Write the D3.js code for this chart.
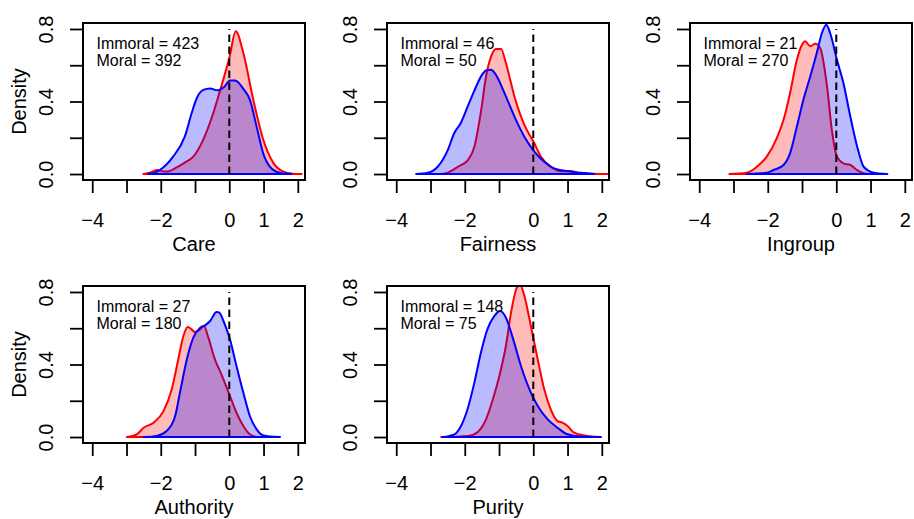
<!DOCTYPE html>
<html>
<head>
<meta charset="utf-8">
<script src="https://cdn.jsdelivr.net/npm/d3@7"></script>
<style>
	body { margin: 0; background: #fff; }
	svg { display: block; font-family: "Liberation Sans", Arial, Helvetica, sans-serif; }
</style>
</head>
<body>
<svg id="chart" width="914" height="519"></svg>
<script>
// foundations, sample sizes
var foundations = ["Care", "Fairness", "Ingroup", "Authority", "Purity"]
var immoralN = [423, 46, 21, 27, 148]
var moralN = [392, 50, 270, 180, 75]

// density curves, [x, density]
var careImmoral = [[-2.51,0],[-2.3,0.008],[-2.12,0.022],[-1.95,0.016],[-1.83,0.014],[-1.55,0.035],[-1.3,0.063],[-1.05,0.096],[-0.76,0.19],[-0.47,0.335],[-0.27,0.46],[0,0.64],[0.19,0.787],[0.41,0.667],[0.7,0.41],[0.99,0.19],[1.29,0.06],[1.58,0.013],[1.85,0.002],[2.11,0]]
var careMoral = [[-2.37,0],[-2.2,0.006],[-2.03,0.022],[-1.64,0.096],[-1.3,0.206],[-1.1,0.335],[-0.95,0.418],[-0.76,0.464],[-0.56,0.472],[-0.35,0.462],[-0.15,0.48],[0.02,0.516],[0.17,0.516],[0.41,0.47],[0.6,0.41],[0.8,0.26],[0.99,0.114],[1.19,0.04],[1.48,0.007],[1.82,0]]
var fairImmoral = [[-2.69,0],[-2.5,0.007],[-2.2,0.04],[-1.91,0.077],[-1.72,0.15],[-1.52,0.354],[-1.38,0.538],[-1.23,0.649],[-1.09,0.69],[-0.94,0.69],[-0.8,0.612],[-0.55,0.428],[-0.26,0.271],[0.03,0.17],[0.22,0.096],[0.51,0.04],[0.81,0.015],[1.1,0.016],[1.3,0.007],[1.58,0.003],[2.26,0]]
var fairMoral = [[-3.42,0],[-3.08,0.007],[-2.79,0.04],[-2.5,0.13],[-2.31,0.225],[-2.12,0.28],[-1.92,0.37],[-1.72,0.46],[-1.52,0.54],[-1.38,0.571],[-1.23,0.575],[-1.09,0.547],[-0.84,0.446],[-0.55,0.317],[-0.26,0.206],[0.03,0.124],[0.32,0.068],[0.61,0.031],[1.0,0.015],[1.39,0.007],[1.78,0]]
var ingImmoral = [[-3.12,0],[-2.61,0.007],[-2.32,0.04],[-2.03,0.096],[-1.74,0.197],[-1.54,0.299],[-1.35,0.446],[-1.15,0.63],[-1.0,0.713],[-0.91,0.732],[-0.76,0.705],[-0.61,0.718],[-0.47,0.695],[-0.27,0.483],[-0.13,0.243],[0.02,0.096],[0.21,0.059],[0.41,0.05],[0.61,0.022],[0.8,0.004],[0.9,0]]
var ingMoral = [[-2.61,0],[-2.03,0.007],[-1.83,0.022],[-1.54,0.05],[-1.35,0.114],[-1.15,0.262],[-0.96,0.41],[-0.76,0.538],[-0.57,0.667],[-0.42,0.778],[-0.29,0.824],[-0.18,0.778],[0.02,0.63],[0.21,0.501],[0.41,0.317],[0.61,0.151],[0.8,0.04],[1.1,0.007],[1.49,0]]
var authImmoral = [[-2.99,0],[-2.7,0.015],[-2.5,0.051],[-2.21,0.079],[-1.92,0.143],[-1.68,0.263],[-1.49,0.428],[-1.34,0.557],[-1.21,0.607],[-1.1,0.594],[-1.0,0.579],[-0.85,0.594],[-0.74,0.612],[-0.61,0.548],[-0.42,0.428],[-0.23,0.346],[0.02,0.226],[0.21,0.134],[0.41,0.061],[0.6,0.015],[0.8,0]]
var authMoral = [[-2.5,0],[-2.12,0.006],[-1.83,0.033],[-1.58,0.116],[-1.44,0.245],[-1.24,0.428],[-1.05,0.548],[-0.85,0.603],[-0.71,0.616],[-0.56,0.64],[-0.37,0.69],[-0.29,0.686],[-0.17,0.64],[0.02,0.539],[0.21,0.392],[0.41,0.245],[0.6,0.116],[0.8,0.042],[0.99,0.009],[1.48,0]]
var purImmoral = [[-2.69,0],[-1.91,0.006],[-1.62,0.028],[-1.38,0.097],[-1.18,0.208],[-0.99,0.337],[-0.8,0.502],[-0.65,0.686],[-0.5,0.815],[-0.39,0.842],[-0.26,0.778],[-0.07,0.612],[0.13,0.428],[0.32,0.263],[0.51,0.153],[0.71,0.088],[0.85,0.079],[1.0,0.061],[1.19,0.024],[1.49,0.009],[1.97,0]]
var purMoral = [[-2.65,0],[-2.3,0.015],[-2.11,0.061],[-1.92,0.153],[-1.72,0.3],[-1.53,0.465],[-1.34,0.594],[-1.14,0.667],[-0.97,0.695],[-0.8,0.659],[-0.6,0.548],[-0.36,0.392],[-0.07,0.245],[0.13,0.171],[0.42,0.097],[0.71,0.051],[1.0,0.015],[1.39,0.003],[1.97,0]]

var immoralCurves = [careImmoral, fairImmoral, ingImmoral, authImmoral, purImmoral]
var moralCurves = [careMoral, fairMoral, ingMoral, authMoral, purMoral]

var xTicks = [-4, -3, -2, -1, 0, 1, 2]
var xLabels = [-4, -2, 0, 1, 2]
var yTicks = [0, 0.2, 0.4, 0.6, 0.8]
var yLabels = [0, 0.4, 0.8]

var colLeft = [83, 387, 690]
var rowTop = [23, 286]
var boxW = 222, boxH = 157

var x = d3.scaleLinear().domain([-4.27, 2.21]).range([0, boxW])
var y = d3.scaleLinear().domain([-0.033, 0.833]).range([boxH, 0])

var svg = d3.select("#chart")

svg.append("defs").append("clipPath")
	.attr("id", "boxclip")
	.append("rect")
	.attr("width", boxW)
	.attr("height", boxH)

var area = d3.area()
	.x(d => x(d[0]))
	.y0(y(0))
	.y1(d => y(d[1]))
	.curve(d3.curveMonotoneX)

function drawPanel(i) {
	let g = svg.append("g")
		.attr("transform", "translate(" + colLeft[i % 3] + "," + rowTop[Math.floor(i / 3)] + ")")

	let plot = g.append("g").attr("clip-path", "url(#boxclip)")

	// immoral first, moral on top of it
	plot.append("path")
		.attr("d", area(immoralCurves[i]))
		.attr("fill", "rgba(255,0,0,0.27)")
		.attr("stroke", "#ff0000")
		.attr("stroke-width", 2)
		.attr("stroke-linejoin", "round")

	plot.append("path")
		.attr("d", area(moralCurves[i]))
		.attr("fill", "rgba(0,0,255,0.27)")
		.attr("stroke", "#0000ff")
		.attr("stroke-width", 2)
		.attr("stroke-linejoin", "round")

	plot.append("line")
		.attr("x1", x(0)).attr("x2", x(0))
		.attr("y1", y(0)).attr("y2", y(0.8))
		.attr("stroke", "#000")
		.attr("stroke-width", 2)
		.attr("stroke-dasharray", "7.5,4.5")

	g.append("rect")
		.attr("width", boxW)
		.attr("height", boxH)
		.attr("fill", "none")
		.attr("stroke", "#000")
		.attr("stroke-width", 2)

	let xa = g.append("g")
		.attr("transform", "translate(0," + boxH + ")")
		.call(d3.axisBottom(x)
			.tickValues(xTicks)
			.tickSize(13)
			.tickSizeOuter(0)
			.tickPadding(20)
			.tickFormat(d => xLabels.includes(d) ? d3.format("d")(d) : ""))
	xa.select(".domain").remove()
	xa.selectAll("line").attr("stroke-width", 1.8)
	xa.selectAll("text")
		.attr("font-size", 20)
		.attr("fill", "#000")
	xa.attr("font-family", null).attr("font-size", null)

	let ya = g.append("g")
		.call(d3.axisLeft(y)
			.tickValues(yTicks)
			.tickSize(13)
			.tickSizeOuter(0)
			.tickFormat(d => yLabels.includes(d) ? d3.format(".1f")(d) : ""))
	ya.select(".domain").remove()
	ya.selectAll("line").attr("stroke-width", 1.8)
	ya.selectAll("text")
		.attr("x", null)
		.attr("dy", null)
		.attr("text-anchor", "middle")
		.attr("transform", "translate(-30,0) rotate(-90)")
		.attr("font-size", 20)
		.attr("fill", "#000")
	ya.attr("font-family", null).attr("font-size", null)

	g.append("text")
		.attr("x", boxW / 2)
		.attr("y", boxH + 71)
		.attr("text-anchor", "middle")
		.attr("font-size", 20)
		.text(foundations[i])

	if (i % 3 == 0) {
		g.append("text")
			.attr("transform", "translate(-57," + (boxH / 2) + ") rotate(-90)")
			.attr("text-anchor", "middle")
			.attr("font-size", 20)
			.text("Density")
	}

	g.append("text")
		.attr("x", 13.5)
		.attr("y", 25.7)
		.attr("font-size", 16)
		.text("Immoral = " + immoralN[i])

	g.append("text")
		.attr("x", 13.5)
		.attr("y", 42.7)
		.attr("font-size", 16)
		.text("Moral = " + moralN[i])
}

for (let i = 0; i < foundations.length; i++)
	drawPanel(i)
</script>
</body>
</html>
